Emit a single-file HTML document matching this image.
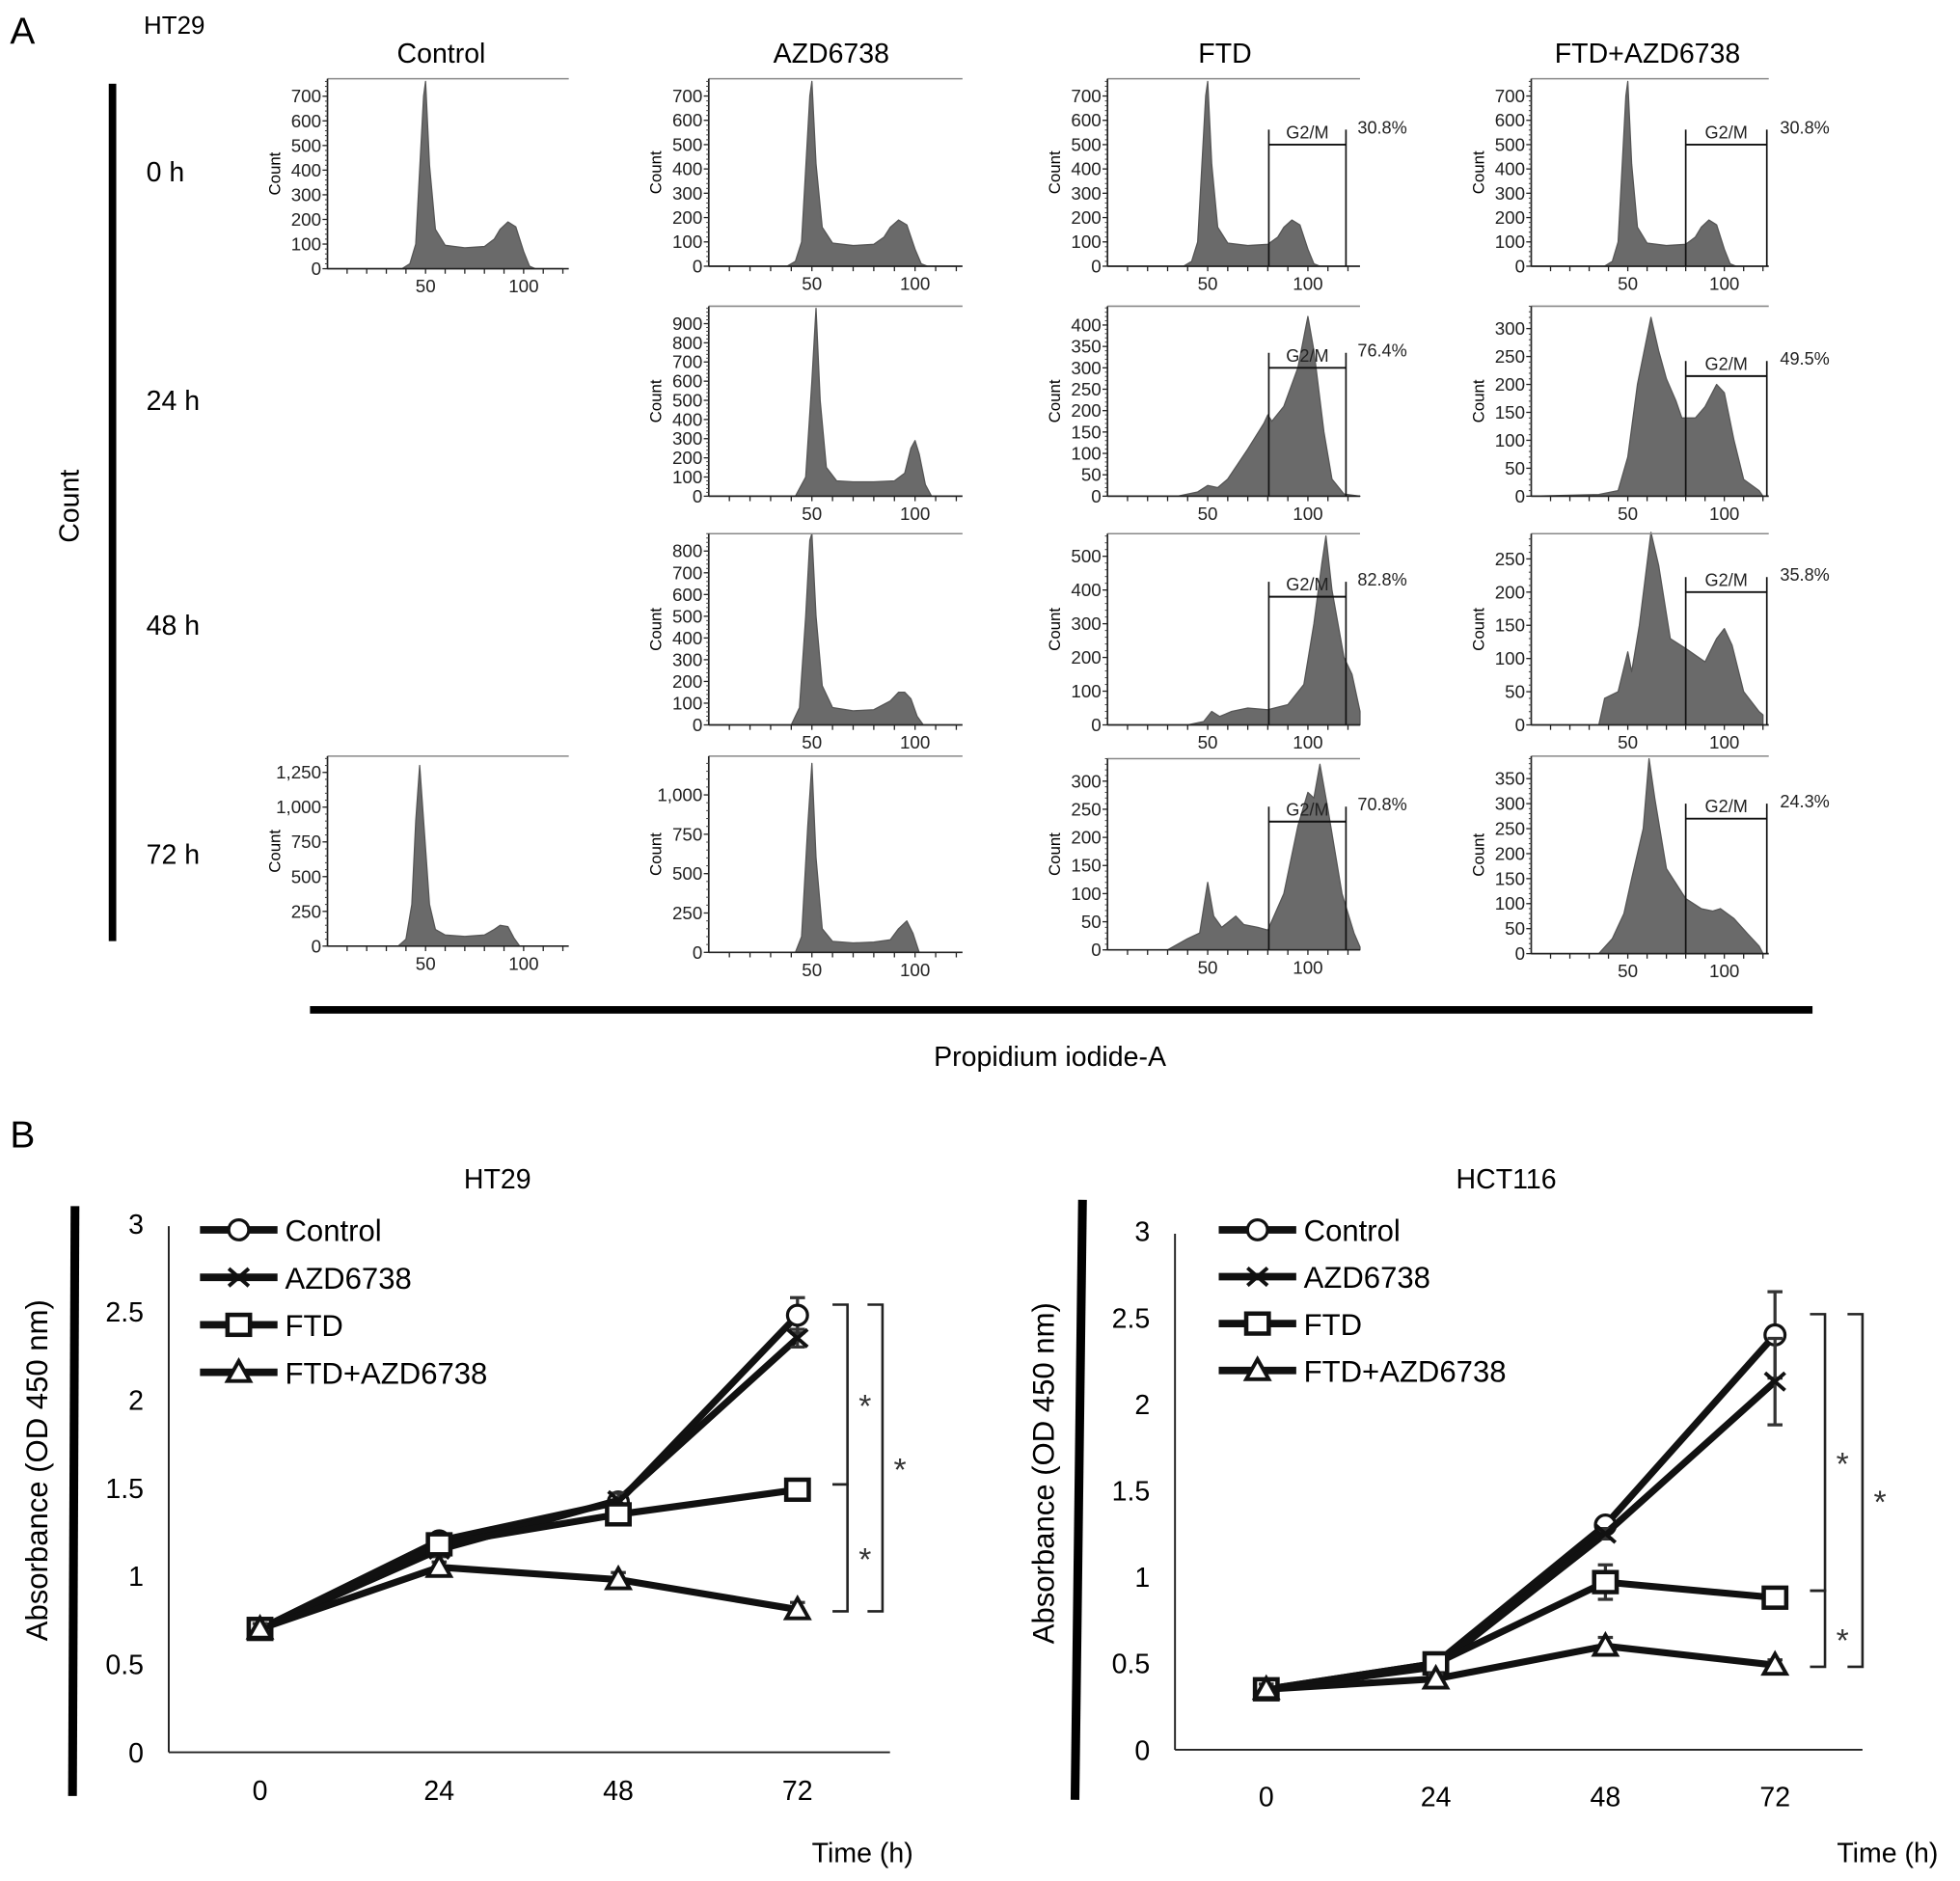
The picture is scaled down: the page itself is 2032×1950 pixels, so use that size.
<!DOCTYPE html>
<html><head><meta charset="utf-8">
<style>
html,body{margin:0;padding:0;background:#fff;}
svg{display:block;font-family:"Liberation Sans",Arial,sans-serif;}
</style></head>
<body>
<svg id="fig" width="2032" height="1950" viewBox="0 0 1568 1505" preserveAspectRatio="none">
<g id="static">
<text x="8" y="35" font-size="30">A</text>
<text x="115" y="27" font-size="20">HT29</text>
<text x="353" y="50" font-size="22" text-anchor="middle">Control</text>
<text x="665" y="50" font-size="22" text-anchor="middle">AZD6738</text>
<text x="980" y="50" font-size="22" text-anchor="middle">FTD</text>
<text x="1318" y="50" font-size="22" text-anchor="middle">FTD+AZD6738</text>
<rect x="87" y="67" width="6" height="686" fill="#000"/>
<text x="0" y="0" font-size="22" text-anchor="middle" transform="translate(63,405) rotate(-90)">Count</text>
<text x="117" y="145" font-size="22">0 h</text>
<text x="117" y="328" font-size="22">24 h</text>
<text x="117" y="508" font-size="22">48 h</text>
<text x="117" y="691" font-size="22">72 h</text>
<rect x="248" y="805" width="1202" height="6" fill="#000"/>
<text x="840" y="853" font-size="22" text-anchor="middle">Propidium iodide-A</text>
<text x="8" y="918" font-size="30">B</text>
<text x="398" y="951" font-size="22" text-anchor="middle">HT29</text>
<text x="1205" y="951" font-size="22" text-anchor="middle">HCT116</text>
</g>
<g id="hists"></g>
<g id="lines"></g>
</svg>
<script>
// ---------- Panel A histogram data ----------
const piBase = [0,38,42,45,47,49,50,52,55,60,70,80,85,88,92,96,100,103,106,120];
const cnt0h = [0,0,20,100,400,700,760,420,160,95,85,90,120,160,190,170,70,10,0,0];
const pi24A = [0,42,47,50,52,54,57,62,70,80,90,95,98,100,102,105,108,120];
const cnt24A = [0,0,100,600,980,500,150,80,75,75,80,120,250,290,220,60,0,0];
const pi48A = [0,40,44,47,49,50,52,55,60,70,80,88,92,95,98,101,104,120];
const cnt48A = [0,0,80,500,850,880,500,180,80,65,70,110,150,150,120,40,0,0];
const pi72A = [0,42,45,48,50,52,55,60,70,80,88,92,96,99,102,120];
const cnt72A = [0,0,100,800,1200,600,150,70,60,65,80,150,200,120,0,0];
const pi72C = [0,36,40,43,45,47,49,52,55,60,70,80,85,88,92,95,98,120];
const cnt72C = [0,0,50,300,900,1300,900,300,120,80,70,80,120,150,140,60,0,0];
const pi24F = [0,35,45,50,55,60,70,78,80,82,88,95,100,103,108,112,118,126];
const cnt24F = [0,0,10,25,20,40,110,170,190,175,210,300,420,340,150,40,5,0];
const pi48F = [0,40,48,52,56,62,70,80,90,98,103,107,109,112,118,122,126];
const cnt48F = [0,0,10,40,25,40,50,45,60,120,300,480,560,400,200,150,40];
const pi72F = [0,30,40,46,50,53,57,64,68,75,80,88,95,100,103,106,110,117,123,126];
const cnt72F = [0,0,20,30,120,60,40,60,45,40,35,100,220,280,270,330,250,100,30,5];
const pi24D = [0,35,45,50,55,62,66,70,75,78,85,90,96,100,105,110,118,120];
const cnt24D = [0,3,10,70,200,320,260,210,170,140,140,160,200,185,100,30,10,0];
const pi48D = [0,35,38,45,50,52,56,62,66,72,80,90,96,100,104,110,118,120];
const cnt48D = [0,0,40,50,110,80,150,290,240,130,115,95,130,145,120,50,20,15];
const pi72D = [0,35,42,48,52,58,61,64,70,80,88,94,98,105,112,118,120];
const cnt72D = [0,0,30,80,150,250,390,310,170,110,90,85,90,70,40,15,0];
// ---------- Panel B data ----------
const times = [0,24,48,72];
const yTicksB = [0,0.5,1,1.5,2,2.5,3];
const seriesNames = ["Control","AZD6738","FTD","FTD+AZD6738"];
const ht29Control = [0.70,1.20,1.42,2.48];
const ht29Azd = [0.70,1.15,1.43,2.35];
const ht29Ftd = [0.70,1.18,1.35,1.49];
const ht29Combo = [0.70,1.05,0.98,0.81];
const ht29ControlErr = [0.04,0.04,0.04,0.10];
const ht29AzdErr = [0.03,0.04,0.04,0.05];
const ht29FtdErr = [0.03,0.04,0.04,0.03];
const ht29ComboErr = [0.03,0.03,0.04,0.04];
const hctControl = [0.35,0.50,1.30,2.40];
const hctAzd = [0.35,0.48,1.25,2.13];
const hctFtd = [0.35,0.50,0.97,0.88];
const hctCombo = [0.35,0.41,0.60,0.49];
const hctControlErr = [0.03,0.03,0.03,0.25];
const hctAzdErr = [0.03,0.03,0.03,0.25];
const hctFtdErr = [0.03,0.03,0.10,0.03];
const hctComboErr = [0.03,0.03,0.05,0.03];

const NS="http://www.w3.org/2000/svg";
function mk(tag,attrs,parent){const e=document.createElementNS(NS,tag);for(const k in attrs)e.setAttribute(k,attrs[k]);parent.appendChild(e);return e;}
const H=document.getElementById('hists');

function hist(name,x0,x1,top,bot,xmax,ymax,step,fmt,pis,cnts,gate,pct,pctX){
  const g=mk('g',{},H);
  
  
  const sx=v=>x0+v/xmax*(x1-x0), sy=v=>bot-v/ymax*(bot-top);
  let d='M'+sx(pis[0])+','+bot;
  for(let i=0;i<pis.length;i++)d+=' L'+sx(pis[i])+','+sy(cnts[i]);
  d+=' L'+sx(pis[pis.length-1])+','+bot+' Z';
  const p=mk('path',{d:d,fill:'#6a6a6a',stroke:'#555','stroke-width':1,'stroke-linejoin':'round'},g);
  
  
  mk('line',{x1:x0,y1:top,x2:x1,y2:top,stroke:'#888','stroke-width':1.2},g);
  mk('line',{x1:x0,y1:top,x2:x0,y2:bot,stroke:'#222','stroke-width':1.3},g);
  mk('line',{x1:x0,y1:bot,x2:x1,y2:bot,stroke:'#222','stroke-width':1.3},g);
  for(let v=0;v<=ymax;v+=step/5)mk('line',{x1:x0-2,y1:sy(v),x2:x0,y2:sy(v),stroke:'#444','stroke-width':0.8},g);
  for(let v=0;v<=ymax;v+=step){
    mk('line',{x1:x0-4,y1:sy(v),x2:x0,y2:sy(v),stroke:'#222','stroke-width':1},g);
    const t=mk('text',{x:x0-5,y:sy(v)+5,'font-size':14.5,'text-anchor':'end',fill:'#222'},g);
    t.textContent=fmt?v.toLocaleString('en-US'):v;
    
    
  }
  for(let v=10;v<xmax;v+=10)mk('line',{x1:sx(v),y1:bot,x2:sx(v),y2:bot+4,stroke:'#222','stroke-width':1},g);
  [50,100].forEach(v=>{const t=mk('text',{x:sx(v),y:bot+19,'font-size':14.5,'text-anchor':'middle',fill:'#222'},g);t.textContent=v;
    
    });
  const yl=mk('text',{x:0,y:0,'font-size':13,'text-anchor':'middle',transform:`translate(${x0-38},${(top+bot)/2}) rotate(-90)`},g);
  yl.textContent='Count';
  
  
  if(gate){
    const gy=sy(gate[2]);
    mk('line',{x1:sx(gate[0]),y1:gy-12,x2:sx(gate[0]),y2:bot,stroke:'#111','stroke-width':1.3},g);
    mk('line',{x1:sx(gate[1]),y1:gy-12,x2:sx(gate[1]),y2:bot,stroke:'#111','stroke-width':1.3},g);
    mk('line',{x1:sx(gate[0]),y1:gy,x2:sx(gate[1]),y2:gy,stroke:'#111','stroke-width':1.5},g);
    const gt=mk('text',{x:(sx(gate[0])+sx(gate[1]))/2,y:gy-5,'font-size':14,'text-anchor':'middle',fill:'#222'},g);
    gt.textContent='G2/M';
    
    
    const pt=mk('text',{x:pctX,y:gy-9,'font-size':14,fill:'#222'},g);
    pt.textContent=pct;
    
    
  }
}
hist('hist-control-0h',262,455,63,215,123,771,100,false,piBase,cnt0h);
hist('hist-control-72h',262,455,605,757,123,1367,250,true,pi72C,cnt72C);
hist('hist-azd-0h',567,770,63,213,123,771,100,false,piBase,cnt0h);
hist('hist-azd-24h',567,770,245,397,123,991,100,false,pi24A,cnt24A);
hist('hist-azd-48h',567,770,427,580,123,880,100,false,pi48A,cnt48A);
hist('hist-azd-72h',567,770,605,762,123,1246,250,true,pi72A,cnt72A);
hist('hist-ftd-0h',886,1088,63,213,126,771,100,false,piBase,cnt0h,[80.5,119,500],'30.8%',1086);
hist('hist-ftd-24h',886,1088,245,397,126,444,50,false,pi24F,cnt24F,[80.5,119,300],'76.4%',1086);
hist('hist-ftd-48h',886,1088,427,580,126,567,100,false,pi48F,cnt48F,[80.5,119,380],'82.8%',1086);
hist('hist-ftd-72h',886,1088,607,760,126,340,50,false,pi72F,cnt72F,[80.5,119,228],'70.8%',1086);
hist('hist-combo-0h',1225,1415,63,213,123,771,100,false,piBase,cnt0h,[80,122,500],'30.8%',1424);
hist('hist-combo-24h',1225,1415,245,397,123,340,50,false,pi24D,cnt24D,[80,122,215],'49.5%',1424);
hist('hist-combo-48h',1225,1415,427,580,123,288,50,false,pi48D,cnt48D,[80,122,200],'35.8%',1424);
hist('hist-combo-72h',1225,1415,605,763,123,395,50,false,pi72D,cnt72D,[80,122,270],'24.3%',1424);

// ---------- Line charts ----------
const L=document.getElementById('lines');
function marker(g,type,x,y){
  if(type===0)mk('circle',{cx:x,cy:y,r:8,fill:'#fff',stroke:'#111','stroke-width':2.5},g);
  else if(type===1){mk('path',{d:`M${x-8},${y-7} L${x+8},${y+7} M${x-8},${y+7} L${x+8},${y-7}`,stroke:'#111','stroke-width':3},g);}
  else if(type===2)mk('rect',{x:x-9,y:y-8,width:18,height:16,fill:'#fff',stroke:'#111','stroke-width':3.5},g);
  else mk('path',{d:`M${x},${y-9} L${x+9},${y+7} L${x-9},${y+7} Z`,fill:'#fff',stroke:'#111','stroke-width':3},g);
}
function chart(name,cfg,data,errs){
  const g=mk('g',{},L);
  
  
  const sx=t=>cfg.xa+(t-0)/72*(cfg.xb-cfg.xa), sy=v=>cfg.y0-v*cfg.py;
  mk('path',{d:`M${cfg.bar[0]},${cfg.bar[1]} L${cfg.bar[2]},${cfg.bar[3]}`,stroke:'#000','stroke-width':7},g);
  const yt=mk('text',{x:0,y:0,'font-size':24,'text-anchor':'middle',transform:`translate(${cfg.ylx},${cfg.y0-1.6*cfg.py}) rotate(-90)`},g);
  yt.textContent='Absorbance (OD 450 nm)';
  
  
  mk('line',{x1:cfg.ax,y1:sy(3)+2,x2:cfg.ax,y2:cfg.y0,stroke:'#222','stroke-width':1.5},g);
  mk('line',{x1:cfg.ax,y1:cfg.y0,x2:cfg.axEnd,y2:cfg.y0,stroke:'#222','stroke-width':1.5},g);
  yTicksB.forEach(v=>{const t=mk('text',{x:cfg.ax-20,y:sy(v)+8,'font-size':22,'text-anchor':'end'},g);t.textContent=v;
    
    });
  times.forEach(v=>{const t=mk('text',{x:sx(v),y:cfg.y0+cfg.xlOff,'font-size':22,'text-anchor':'middle'},g);t.textContent=v;
    
    });
  const xt=mk('text',{x:cfg.timeX,y:1490,'font-size':22,'text-anchor':'middle'},g);
  xt.textContent='Time (h)';
  
  
  data.forEach((s,si)=>{
    const sg=mk('g',{},g);
    
    
    mk('polyline',{points:s.map((v,i)=>sx(times[i])+','+sy(v)).join(' '),fill:'none',stroke:'#111','stroke-width':5.5,'stroke-linejoin':'round'},sg);
    s.forEach((v,i)=>{const e=errs[si][i];
      mk('path',{d:`M${sx(times[i])},${sy(v+e)} L${sx(times[i])},${sy(v-e)} M${sx(times[i])-6},${sy(v+e)} L${sx(times[i])+6},${sy(v+e)} M${sx(times[i])-6},${sy(v-e)} L${sx(times[i])+6},${sy(v-e)}`,stroke:'#333','stroke-width':2.5},sg);
      marker(sg,si,sx(times[i]),sy(v));});
  });
  seriesNames.forEach((n,i)=>{
    const y=cfg.legY+i*cfg.legDy;
    const lg=mk('g',{},g);
    
    
    mk('line',{x1:cfg.legX,y1:y,x2:cfg.legX+62,y2:y,stroke:'#111','stroke-width':6},lg);
    marker(lg,i,cfg.legX+31,y);
    const t=mk('text',{x:cfg.legX+68,y:y+9,'font-size':24},lg);t.textContent=n;
  });
  cfg.br.forEach(b=>{
    const bg=mk('g',{},g);
    
    
    mk('path',{d:`M${b[0]-12},${sy(b[1])} L${b[0]},${sy(b[1])} L${b[0]},${sy(b[2])} L${b[0]-12},${sy(b[2])}`,fill:'none',stroke:'#222','stroke-width':2},bg);
    const t=mk('text',{x:b[0]+14,y:(sy(b[1])+sy(b[2]))/2+18,'font-size':26,'text-anchor':'middle',fill:'#333'},bg);t.textContent='*';
  });
}
chart('ht29-line-chart',{xa:208,xb:638,y0:1402,py:141,ax:135,axEnd:712,bar:[60,965,58,1437],ylx:38,timeX:690,xlOff:38,legX:160,legY:984,legDy:38,
  br:[[678,2.54,1.52],[678,1.52,0.8],[706,2.54,0.8]]},[ht29Control,ht29Azd,ht29Ftd,ht29Combo],[ht29ControlErr,ht29AzdErr,ht29FtdErr,ht29ComboErr]);
chart('hct116-line-chart',{xa:1013,xb:1420,y0:1400,py:138.3,ax:940,axEnd:1490,bar:[866,960,860,1440],ylx:843,timeX:1510,xlOff:45,legX:975,legY:984,legDy:37.5,
  br:[[1460,2.52,0.92],[1460,0.92,0.48],[1490,2.52,0.48]]},[hctControl,hctAzd,hctFtd,hctCombo],[hctControlErr,hctAzdErr,hctFtdErr,hctComboErr]);
</script>
</body></html>
